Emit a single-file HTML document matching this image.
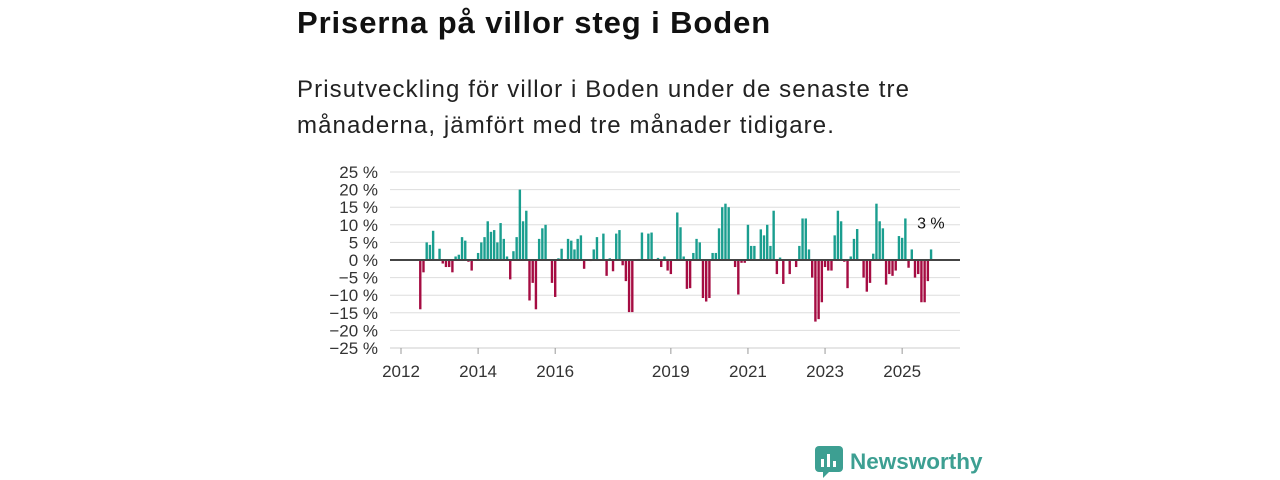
<!DOCTYPE html>
<html><head><meta charset="utf-8"><style>
body{margin:0;width:1280px;height:480px;background:#fff;font-family:"Liberation Sans","DejaVu Sans",sans-serif;overflow:hidden;position:relative}
#title{position:absolute;left:297px;top:5px;font-size:31px;letter-spacing:0.9px;font-weight:bold;color:#111}
#sub{position:absolute;left:297px;top:72px;font-size:24px;letter-spacing:1.1px;line-height:36px;color:#222;width:640px}
#logo{position:absolute;left:815px;top:446px;display:flex;align-items:center;gap:7px;color:#3d9f92;font-size:22.5px;font-weight:bold}
</style></head><body>
<div id="title">Priserna på villor steg i Boden</div>
<div id="sub">Prisutveckling för villor i Boden under de senaste tre månaderna, jämfört med tre månader tidigare.</div>
<svg id="chart" width="1280" height="480" style="position:absolute;left:0;top:0"></svg>
<div id="logo"><svg width="28" height="32" viewBox="0 0 28 32"><rect x="0" y="0" width="28" height="26" rx="4" fill="#3d9f92"/><polygon points="8,26 14,26 8,32" fill="#3d9f92"/><rect x="6" y="13" width="3" height="8" fill="#fff"/><rect x="12" y="8" width="3" height="13" fill="#fff"/><rect x="18" y="15" width="3" height="6" fill="#fff"/></svg><span>Newsworthy</span></div>
<script>
const startYear = 2012, startMonth = 6;
const values = [-14,-3.5,5,4.3,8.3,0.3,3.2,-1,-2,-2,-3.5,1,1.5,6.5,5.5,-0.5,-3,0,2,5,6.5,11,8,8.5,5,10.5,6,1,-5.5,2.5,6.5,20,11,14,-11.5,-6.5,-14,6,9,10,0,-6.5,-10.5,0.5,3.2,0,6,5.5,3,6,7,
-2.5,0,-0.3,3,6.5,0,7.5,-4.5,0.5,-3.2,7.5,8.5,-1.5,-6,-14.8,-14.8,0,0.3,7.8,0,7.5,7.8,0,0.6,-2,1,-3,-4,0,13.5,9.3,1,-8.2,-8,2,6,5,-10.8,-11.8,-10.8,2,2,9,15,16,15,0,-2,-9.8,-0.8,-0.8,10,4,4,0,8.7,7,10,4,14,
-4,0.7,-6.8,0,-4,0,-2,4,11.8,11.8,3,-5,-17.5,-16.8,-12,-2,-3,-3,7,14,11,-0.5,-8,1,6,8.8,0,-5,-9,-6.5,1.8,16,11,9,-7,-4,-4.5,-3,6.8,6.3,11.8,-2.2,3,-5,-4,-12,-12,-6,3];
const yTicks = [25,20,15,10,5,0,-5,-10,-15,-20,-25];
const xTickYears = [2012,2014,2016,2019,2021,2023,2025];
const lastLabel = "3 %";
const svg = document.getElementById('chart');
const NS = 'http://www.w3.org/2000/svg';
const y = v => 260 - v * 3.52;
const x = yr => 401 + (yr - 2012) * 38.55;
function mk(tag, attrs){const e=document.createElementNS(NS,tag);for(const k in attrs)e.setAttribute(k,attrs[k]);svg.appendChild(e);return e;}
yTicks.forEach(t=>{
  const g=mk('line',{x1:390,x2:960,y1:y(t),y2:y(t),stroke:'#ddd','stroke-width':1});
  
  
  const lb=mk('text',{x:378,y:y(t)+6,'text-anchor':'end','font-size':17,fill:'#333','font-family':'Liberation Sans, sans-serif'});
  lb.textContent=(t<0?'\u2212'+(-t):t)+' %';
  
  
});
const ax=mk('line',{x1:390,x2:960,y1:348,y2:348,stroke:'#ccc'});


xTickYears.forEach(yr=>{
  const tk=mk('line',{x1:x(yr),x2:x(yr),y1:348,y2:354,stroke:'#999'});
  
  
  const lb=mk('text',{x:x(yr),y:377,'text-anchor':'middle','font-size':17,fill:'#333','font-family':'Liberation Sans, sans-serif'});
  lb.textContent=yr;
  
  
});
let lastX=0,lastV=0;
values.forEach((v,i)=>{
  const m=startMonth+i;
  const bx=x(startYear+m/12);
  const r=mk('rect',{x:bx-1.2,width:2.4,y:Math.min(y(v),260),height:Math.abs(y(v)-260),fill:v>=0?'#1a9e8f':'#a50c42'});
  
  
  lastX=bx;lastV=v;
});
const zl=mk('line',{x1:390,x2:960,y1:260,y2:260,stroke:'#444','stroke-width':2});


const ll=mk('text',{x:lastX-14,y:y(lastV)-21,'font-size':16,fill:'#111','font-family':'Liberation Sans, sans-serif'});
ll.textContent=lastLabel;


</script>
</body></html>
